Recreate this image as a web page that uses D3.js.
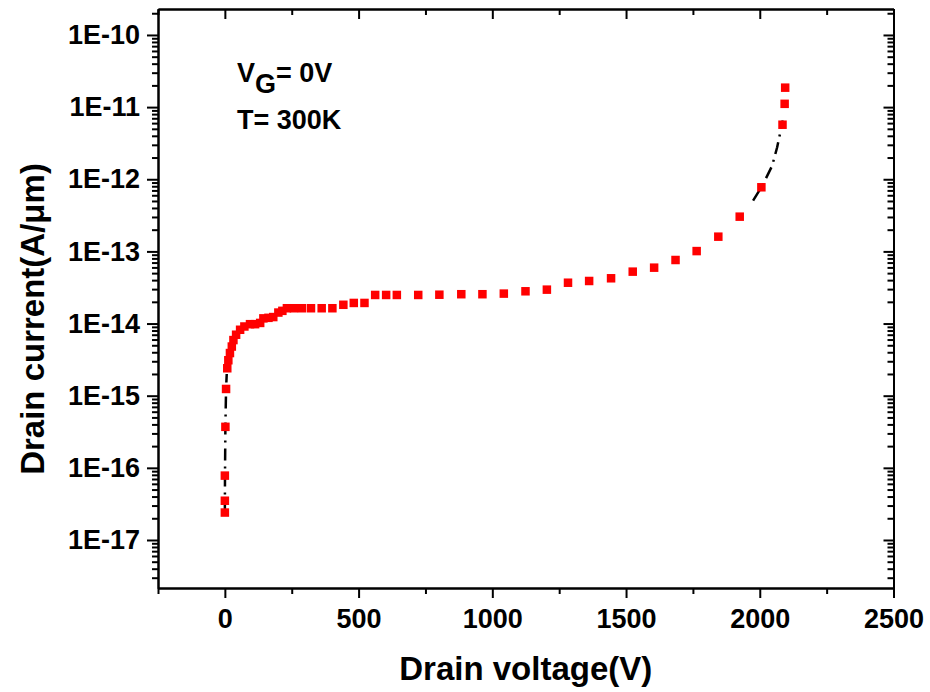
<!DOCTYPE html>
<html>
<head>
<meta charset="utf-8">
<script src="https://cdn.jsdelivr.net/npm/d3@7"></script>
<style>
  body { margin: 0; background: #fff; }
  svg { font-family: "Liberation Sans", Arial, sans-serif; font-weight: bold; }
  .axis path, .axis line { stroke: #000; stroke-width: 2; }
  .axis text { font-size: 27px; font-weight: bold; fill: #000; }
</style>
</head>
<body>
<div id="chart"></div>
<script>
// drain voltage (V) and drain current (A/um)
const voltage = [0, 0, 0, 2, 4.5, 9, 13, 19, 26, 32, 42, 57, 73, 94, 113, 132, 144, 163, 181, 200, 215,
    232, 258, 288, 322, 362, 402, 443, 482, 522, 562, 603, 643, 723, 802, 884, 963, 1043, 1124, 1204,
    1283, 1362, 1444, 1525, 1605, 1685, 1764, 1845, 1925, 2006, 2085, 2093, 2095];
const current = [2.4e-17, 3.5e-17, 7.8e-17, 3.7e-16, 1.24e-15, 2.4e-15, 3.1e-15, 3.9e-15, 4.8e-15, 5.9e-15,
    7.0e-15, 8.2e-15, 9.1e-15, 9.8e-15, 9.8e-15, 1.02e-14, 1.18e-14, 1.2e-14, 1.23e-14, 1.42e-14, 1.5e-14,
    1.63e-14, 1.63e-14, 1.63e-14, 1.63e-14, 1.63e-14, 1.63e-14, 1.82e-14, 1.93e-14, 1.93e-14, 2.49e-14,
    2.49e-14, 2.49e-14, 2.49e-14, 2.51e-14, 2.55e-14, 2.55e-14, 2.6e-14, 2.8e-14, 2.95e-14,
    3.68e-14, 3.89e-14, 4.24e-14, 5.24e-14, 5.95e-14, 7.6e-14, 1.01e-13, 1.6e-13, 3.03e-13, 7.74e-13,
    5.7e-12, 1.11e-11, 1.86e-11];

// dash-dot guide line in the two steep parts
const fitLowV = [0, 0.5, 2, 4.5, 7];
const fitLowI = [2.4e-17, 8e-17, 3.7e-16, 1.24e-15, 2.0e-15];
const fitHighV = [1975, 2006, 2022, 2046, 2065, 2080, 2086];
const fitHighI = [5.05e-13, 7.74e-13, 1.01e-12, 1.53e-12, 2.77e-12, 5.1e-12, 6.5e-12];

const xDomain = [-250, 2500];
const xTicks = [0, 500, 1000, 1500, 2000, 2500];
const yDomain = [2.16e-18, 2.29e-10];
const yTicks = [1e-17, 1e-16, 1e-15, 1e-14, 1e-13, 1e-12, 1e-11, 1e-10];
const yTickLabels = ["1E-17", "1E-16", "1E-15", "1E-14", "1E-13", "1E-12", "1E-11", "1E-10"];

const w = 930;
const h = 692;
const padL = 158, padR = 893.5, padT = 9, padB = 588;

const svg = d3.select("#chart")
    .append("svg")
    .attr("width", w)
    .attr("height", h);

const x = d3.scaleLinear().domain(xDomain).range([padL, padR]);
const y = d3.scaleLog().domain(yDomain).range([padB, padT]);

// minor ticks
const xMinor = d3.range(-250, 2501, 250).filter(v => v % 500 !== 0);
const yMinor = [];
for (let e = -18; e <= -10; e++) {
    for (let k = 2; k <= 9; k++) {
        const v = k * Math.pow(10, e);
        if (v >= yDomain[0] && v <= yDomain[1]) yMinor.push(v);
    }
}

// bottom
svg.append("g").attr("class", "axis")
    .attr("transform", `translate(0,${padB})`)
    .call(d3.axisBottom(x).tickValues(xMinor).tickSize(6).tickSizeOuter(0).tickFormat(""));
const xAx = svg.append("g").attr("class", "axis")
    .attr("transform", `translate(0,${padB})`)
    .call(d3.axisBottom(x).tickValues(xTicks).tickSize(10).tickSizeOuter(0).tickFormat(d3.format("d")));
xAx.selectAll("text").attr("y", 21).attr("dy", "0.71em");

// top (ticks inward)
svg.append("g").attr("class", "axis")
    .attr("transform", `translate(0,${padT})`)
    .call(d3.axisTop(x).tickValues(xMinor).tickSize(-6).tickSizeOuter(0).tickFormat(""));
svg.append("g").attr("class", "axis")
    .attr("transform", `translate(0,${padT})`)
    .call(d3.axisTop(x).tickValues(xTicks).tickSize(-10).tickSizeOuter(0).tickFormat(""));

// left
svg.append("g").attr("class", "axis")
    .attr("transform", `translate(${padL},0)`)
    .call(d3.axisLeft(y).tickValues(yMinor).tickSize(6).tickSizeOuter(0).tickFormat(""));
svg.append("g").attr("class", "axis")
    .attr("transform", `translate(${padL},0)`)
    .call(d3.axisLeft(y).tickValues(yTicks).tickSize(11).tickPadding(7).tickSizeOuter(0)
        .tickFormat((d, i) => yTickLabels[i]));

// right (ticks inward)
svg.append("g").attr("class", "axis")
    .attr("transform", `translate(${padR},0)`)
    .call(d3.axisRight(y).tickValues(yMinor).tickSize(-6).tickSizeOuter(0).tickFormat(""));
svg.append("g").attr("class", "axis")
    .attr("transform", `translate(${padR},0)`)
    .call(d3.axisRight(y).tickValues(yTicks).tickSize(-10).tickSizeOuter(0).tickFormat(""));

// guide lines
const line = d3.line().x(d => x(d[0])).y(d => y(d[1]));
[[fitLowV, fitLowI], [fitHighV, fitHighI]].forEach(([vs, is]) => {
    svg.append("path")
        .datum(vs.map((v, i) => [v, is[i]]))
        .attr("d", line)
        .attr("fill", "none")
        .attr("stroke", "#000")
        .attr("stroke-width", 2.5)
        .attr("stroke-dasharray", "12,6,2,6");
});

// markers
const ms = 8.5;
svg.selectAll("rect.pt")
    .data(voltage.map((v, i) => [v, current[i]]))
    .enter()
    .append("rect")
    .attr("class", "pt")
    .attr("x", d => x(d[0]) - ms / 2)
    .attr("y", d => y(d[1]) - ms / 2)
    .attr("width", ms)
    .attr("height", ms)
    .attr("fill", "#ff0000");

// titles
svg.append("text")
    .attr("x", (padL + padR) / 2)
    .attr("y", 680)
    .attr("text-anchor", "middle")
    .style("font-size", "33px")
    .text("Drain voltage(V)");

svg.append("text")
    .attr("transform", "translate(44,319) rotate(-90)")
    .attr("text-anchor", "middle")
    .style("font-size", "33px")
    .text("Drain current(A/μm)");

// annotation
const vg = svg.append("text")
    .attr("x", 237)
    .attr("y", 82)
    .style("font-size", "27px");
vg.append("tspan").text("V");
vg.append("tspan").attr("dy", 11).text("G");
vg.append("tspan").attr("dy", -11).text("= 0V");

svg.append("text")
    .attr("x", 237)
    .attr("y", 129)
    .style("font-size", "27px")
    .text("T= 300K");
</script>
</body>
</html>
